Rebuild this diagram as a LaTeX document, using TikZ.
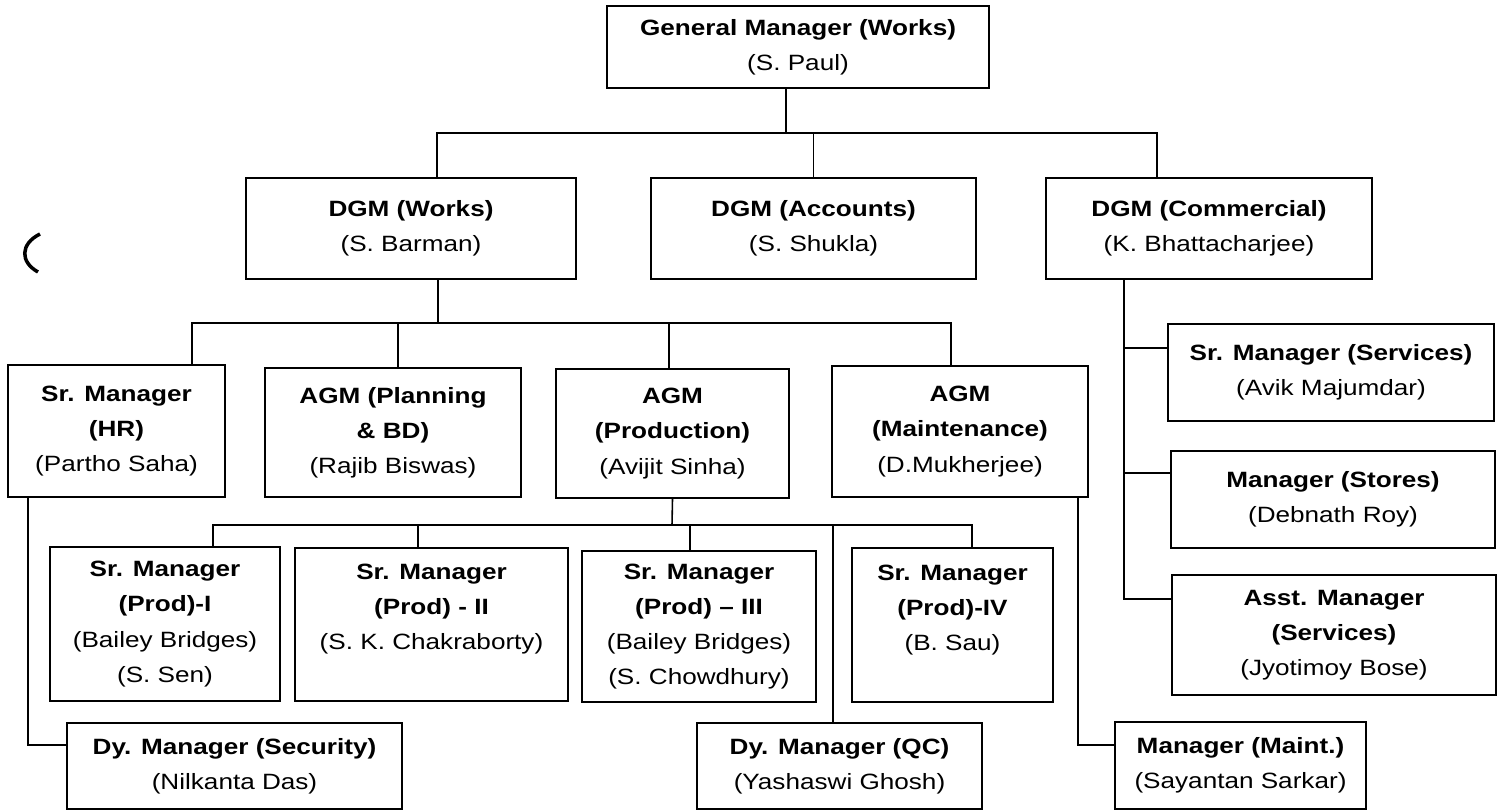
\documentclass[tikz,border=0pt]{standalone}
\usepackage{fontspec}
\setmainfont[FakeStretch=1.18]{Liberation Sans}
\tikzset{
  post/.style={draw, line width=1.2pt, align=center, inner sep=2pt,
    font=\fontsize{12.6}{20}\selectfont},
  link/.style={line width=0.9pt},
}
\begin{document}
\begin{tikzpicture}[x=0.02cm,y=-0.02cm]
\useasboundingbox (0,0) rectangle (1501,810);

% top
\node[post, minimum width=7.64cm, minimum height=1.64cm] (gm) at (798,47) {\textbf{General Manager (Works)}\\(S. Paul)};

\node[post, minimum width=6.60cm, minimum height=2.02cm] (dgmw) at (411,228.5) {\textbf{DGM (Works)}\\(S. Barman)};
\node[post, minimum width=6.50cm, minimum height=2.02cm] (dgma) at (813.5,228.5) {\textbf{DGM (Accounts)}\\(S. Shukla)};
\node[post, minimum width=6.52cm, minimum height=2.02cm] (dgmc) at (1209,228.5) {\textbf{DGM (Commercial)}\\(K. Bhattacharjee)};

% under DGM (Works)
\node[post, minimum width=4.34cm, minimum height=2.64cm] (hr) at (116.5,431) {\textbf{Sr. Manager}\\\textbf{(HR)}\\(Partho Saha)};
\node[post, minimum width=5.12cm, minimum height=2.58cm] (plan) at (393,432.5) {\textbf{AGM (Planning}\\\textbf{\& BD)}\\(Rajib Biswas)};
\node[post, minimum width=4.66cm, minimum height=2.58cm] (prod) at (672.5,433.5) {\textbf{AGM}\\\textbf{(Production)}\\(Avijit Sinha)};
\node[post, minimum width=5.12cm, minimum height=2.62cm] (maint) at (960,431.5) {\textbf{AGM}\\\textbf{(Maintenance)}\\(D.Mukherjee)};

% under DGM (Commercial)
\node[post, minimum width=6.52cm, minimum height=1.94cm] (srsvc) at (1331,372.5) {\textbf{Sr. Manager (Services)}\\(Avik Majumdar)};
\node[post, minimum width=6.48cm, minimum height=1.94cm] (stores) at (1333,499.5) {\textbf{Manager (Stores)}\\(Debnath Roy)};
\node[post, minimum width=6.48cm, minimum height=2.40cm] (asst) at (1334,635) {\textbf{Asst. Manager}\\\textbf{(Services)}\\(Jyotimoy Bose)};

% under AGM (Production)
\node[post, minimum width=4.60cm, minimum height=3.08cm] (p1) at (165,624) {\textbf{Sr. Manager}\\\textbf{(Prod)-I}\\(Bailey Bridges)\\(S. Sen)};
\node[post, minimum width=5.46cm, minimum height=3.06cm] (p2) at (431.5,624.5) {\textbf{Sr. Manager}\\\textbf{(Prod) - II}\\(S. K. Chakraborty)\\\mbox{}};
\node[post, minimum width=4.68cm, minimum height=3.02cm] (p3) at (699,626.5) {\textbf{Sr. Manager}\\\textbf{(Prod) -- III}\\(Bailey Bridges)\\(S. Chowdhury)};
\node[post, minimum width=4.02cm, minimum height=3.08cm] (p4) at (952.5,625) {\textbf{Sr. Manager}\\\textbf{(Prod)-IV}\\(B. Sau)\\\mbox{}};

% bottom row
\node[post, minimum width=6.70cm, minimum height=1.72cm] (sec) at (234.5,766) {\textbf{Dy. Manager (Security)}\\(Nilkanta Das)};
\node[post, minimum width=5.70cm, minimum height=1.72cm] (qc) at (839.5,766) {\textbf{Dy. Manager (QC)}\\(Yashaswi Ghosh)};
\node[post, minimum width=5.02cm, minimum height=1.74cm] (mm) at (1240.5,765.5) {\textbf{Manager (Maint.)}\\(Sayantan Sarkar)};

% connectors
\coordinate (top) at (786,133);
\coordinate (mid) at (438,323);
\coordinate (low) at (672,525);
\coordinate (com) at ([xshift=-1.7cm]dgmc.south);

\draw[link] ([xshift=-0.24cm]gm.south) -- (top);
\draw[link] ([xshift=0.52cm]dgmw.north) |- (top) -| ([xshift=-1.04cm]dgmc.north);
\draw[link] (dgma.north) -- (dgma.north |- top);

\draw[link] ([xshift=0.54cm]dgmw.south) -- (mid);
\draw[link] ([xshift=1.51cm]hr.north) |- (mid) -| ([xshift=-0.18cm]maint.north);
\draw[link] ([xshift=0.1cm]plan.north) |- (mid);
\draw[link] ([xshift=-0.07cm]prod.north) |- (mid);

\draw[link] (prod.south) -- (low);
\draw[link] ([xshift=0.96cm]p1.north) |- (low) -| ([xshift=0.39cm]p4.north);
\draw[link] ([xshift=-0.27cm]p2.north) |- (low);
\draw[link] ([xshift=-0.18cm]p3.north) |- (low);
\draw[link] ([xshift=-0.13cm]qc.north) |- (low);

\draw[link] ([xshift=-1.77cm]hr.south) |- ([yshift=0.42cm]sec.west);
\draw[link] ([xshift=2.36cm]maint.south) |- ([yshift=0.41cm]mm.west);

\draw[link] (com) |- ([yshift=0.72cm]asst.west);
\draw[link] (com) |- ([yshift=0.49cm]srsvc.west);
\draw[link] (com) |- ([yshift=0.53cm]stores.west);

% stray mark at the left
\draw[line width=2pt] (40,234) .. controls (20,244) and (20,262) .. (38,272);
\end{tikzpicture}
\end{document}
